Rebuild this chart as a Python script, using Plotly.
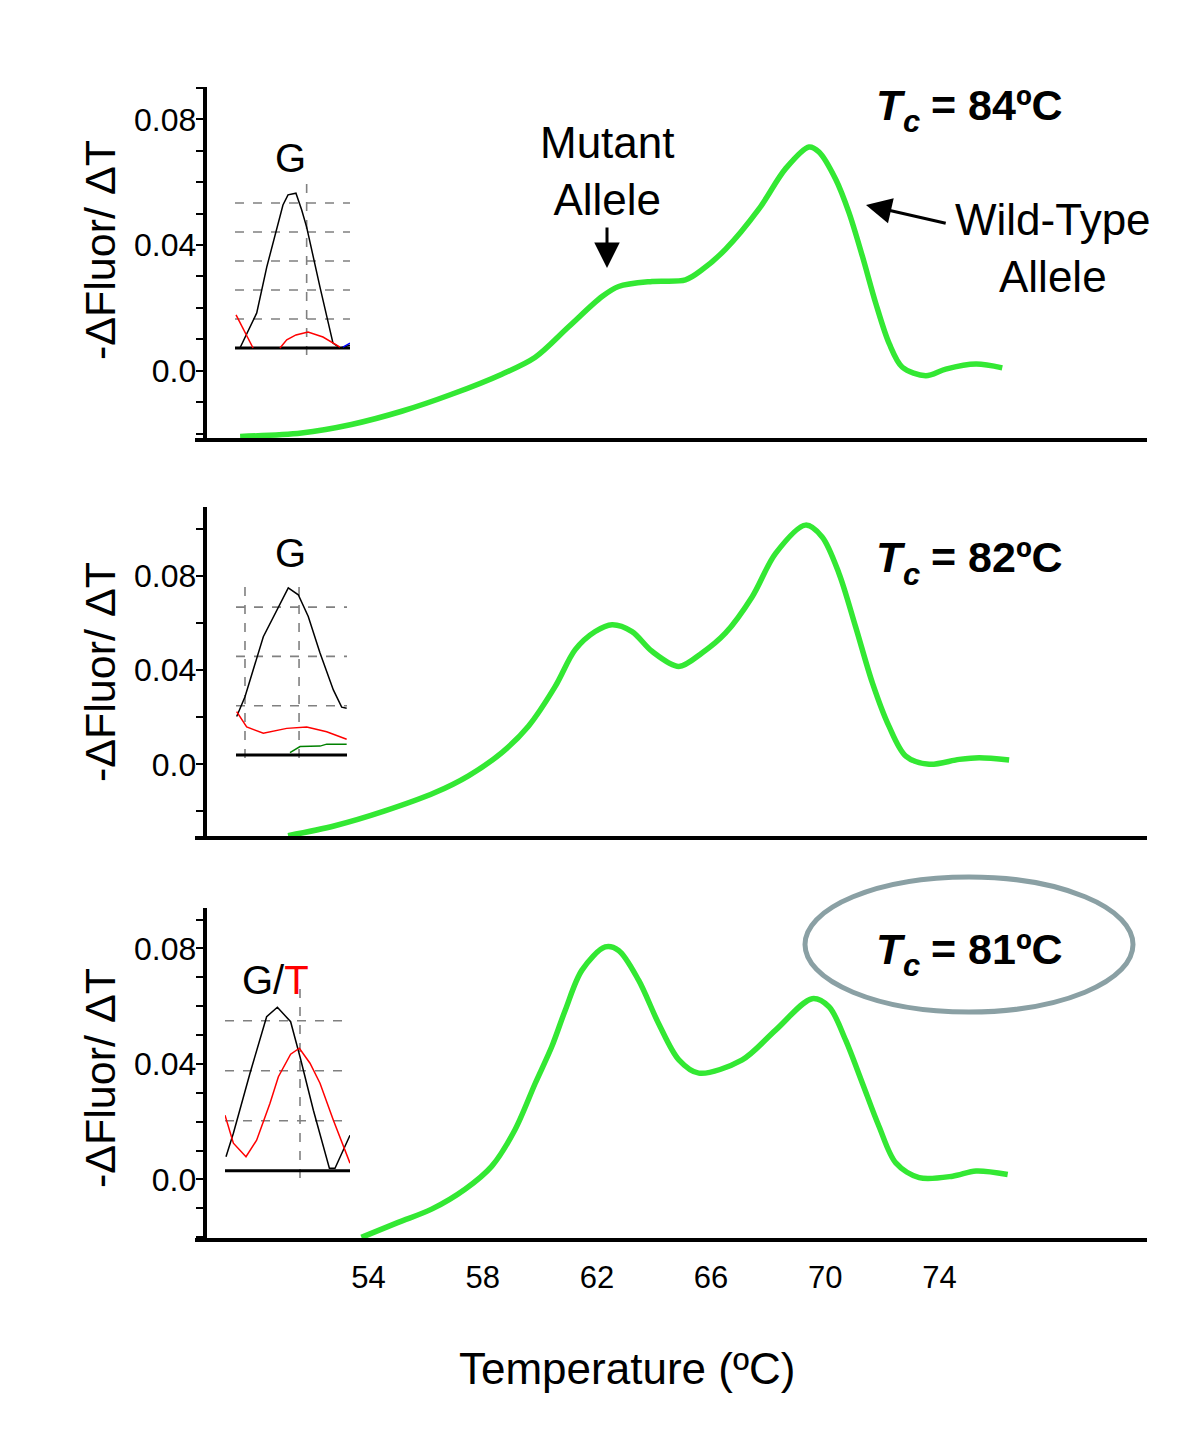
import plotly.graph_objects as go

# ---------------- main melting-curve data ----------------
temp_84 = [49.5, 51.65, 53.4, 55.16, 56.91, 58.67, 59.84, 61.0, 62.18, 62.76, 63.93, 65.1, 65.68,
           66.5, 67.67, 68.61, 69.43, 69.78, 70.36, 70.83, 71.3, 71.77, 72.24, 72.7, 73.52, 74.22, 75.28, 76.2]
dfdt_84 = [-0.0209, -0.0198, -0.0171, -0.0129, -0.0075, -0.0011, 0.0043, 0.0139, 0.0236, 0.0268, 0.0284, 0.0289, 0.0321,
           0.0386, 0.0514, 0.0643, 0.0712, 0.0696, 0.061, 0.0503, 0.0364, 0.0214, 0.0086, 0.0011, -0.0016, 0.0005, 0.0021, 0.0009]

temp_82 = [51.18, 52.82, 54.57, 56.33, 57.5, 58.67, 59.6, 60.54, 61.24, 61.94, 62.53, 63.23, 63.93, 64.87, 65.68,
           66.5, 67.44, 68.26, 69.31, 69.89, 70.48, 71.06, 71.65, 72.23, 72.82, 73.64, 74.69, 75.39, 76.44]
dfdt_82 = [-0.0303, -0.0261, -0.0198, -0.012, -0.0049, 0.005, 0.0162, 0.0331, 0.0487, 0.0564, 0.0593, 0.0564, 0.048, 0.0416, 0.0473,
           0.0557, 0.0712, 0.0896, 0.1016, 0.0966, 0.0811, 0.0585, 0.0346, 0.0162, 0.0035, 0.0, 0.0021, 0.0028, 0.0018]

temp_81 = [53.75, 55.04, 56.21, 57.38, 58.32, 59.13, 59.84, 60.42, 60.89, 61.47, 62.29, 62.76, 63.46, 64.16, 64.87, 65.57,
           67.09, 68.26, 69.54, 70.13, 70.71, 71.3, 71.88, 72.47, 73.29, 74.46, 75.28, 76.39]
dfdt_81 = [-0.0201, -0.0149, -0.0103, -0.0034, 0.0046, 0.0172, 0.0333, 0.046, 0.0586, 0.0724, 0.0805, 0.0793, 0.069, 0.054, 0.0414, 0.0368,
           0.0414, 0.0517, 0.0626, 0.0598, 0.0483, 0.0333, 0.0184, 0.0057, 0.0006, 0.0011, 0.0029, 0.0017]

x_tickvals = [54, 58, 62, 66, 70, 74]
x_ticktext = ["54", "58", "62", "66", "70", "74"]

y_tickvals = [0.0, 0.04, 0.08]
y_ticktext = ["0.0", "0.04", "0.08"]
y_minor_step = [0.01, 0.02, 0.01]   # panel 1, panel 2, panel 3

tc_labels = ["84", "82", "81"]

# ---------------- inset (sequencing trace) data ----------------
ins1_black_x = [4.3, 18.9, 27.6, 41.7, 46.1, 53.0, 58.0, 62.3, 73.9, 85.2, 91.3, 96.0, 100]
ins1_black_y = [0.0, 1.21, 2.79, 4.93, 5.28, 5.34, 4.76, 4.17, 2.1, 0.17, 0.0, 0.05, 0.1]
ins1_red_x = [0.9, 15.7, None, 39.1, 45.0, 53.0, 63.5, 76.5, 91.3]
ins1_red_y = [1.14, 0.0, None, 0.0, 0.28, 0.45, 0.55, 0.38, 0.03]
ins1_blue_x = [93.9, 100]
ins1_blue_y = [0.03, 0.17]
ins1_hgrid = [1, 2, 3, 4, 5]
ins1_vgrid = [62.3]

ins2_black_x = [0.6, 8.1, 24.6, 39.6, 47.1, 56.1, 65.1, 75.7, 87.7, 95.2, 99.7]
ins2_black_y = [0.78, 1.18, 2.40, 3.08, 3.39, 3.25, 2.81, 2.07, 1.32, 0.97, 0.95]
ins2_red_x = [0.6, 9.6, 24.6, 45.7, 63.7, 81.7, 99.7]
ins2_red_y = [0.88, 0.57, 0.44, 0.54, 0.57, 0.47, 0.32]
ins2_green_x = [48.6, 57.7, 75.7, 81.7, 99.7]
ins2_green_y = [0.05, 0.17, 0.18, 0.22, 0.22]
ins2_hgrid = [1, 2, 3]
ins2_vgrid = [8.1, 56.8]

ins3_black_x = [0.8, 6.7, 20.0, 33.3, 41.9, 52.5, 60.0, 70.7, 83.5, 88.0, 100]
ins3_black_y = [0.28, 0.75, 1.95, 3.08, 3.27, 2.98, 2.28, 1.21, 0.05, 0.05, 0.71]
ins3_red_x = [0.0, 6.7, 16.8, 25.3, 36.0, 42.7, 52.5, 59.5, 68.0, 76.0, 86.7, 100]
ins3_red_y = [1.11, 0.55, 0.28, 0.61, 1.35, 1.88, 2.33, 2.45, 2.15, 1.75, 1.01, 0.15]
ins3_hgrid = [1, 2, 3]
ins3_vgrid = [60]

FONT = "Liberation Sans, Arial, Helvetica, sans-serif"
GREEN = "#33e833"

fig = go.Figure()

for tx, vy, xa, ya in [(temp_81, dfdt_81, "x", "y"), (temp_82, dfdt_82, "x2", "y2"), (temp_84, dfdt_84, "x3", "y3")]:
    fig.add_trace(go.Scatter(x=tx, y=vy, xaxis=xa, yaxis=ya, mode="lines",
                             line=dict(color=GREEN, width=5.5, shape="spline", smoothing=0.9),
                             hoverinfo="skip"))

ins_traces = [
    (ins1_black_x, ins1_black_y, "black", "x4", "y4"),
    (ins1_red_x, ins1_red_y, "red", "x4", "y4"),
    (ins1_blue_x, ins1_blue_y, "blue", "x4", "y4"),
    (ins2_black_x, ins2_black_y, "black", "x5", "y5"),
    (ins2_red_x, ins2_red_y, "red", "x5", "y5"),
    (ins2_green_x, ins2_green_y, "green", "x5", "y5"),
    (ins3_black_x, ins3_black_y, "black", "x6", "y6"),
    (ins3_red_x, ins3_red_y, "red", "x6", "y6"),
]
for ix, iy, col, xa, ya in ins_traces:
    fig.add_trace(go.Scatter(x=ix, y=iy, xaxis=xa, yaxis=ya, mode="lines",
                             line=dict(color=col, width=1.5), connectgaps=False, hoverinfo="skip"))

# page body has an 8px margin: lay the figure out in page pixels minus that offset
OFF = 8.0
W = 1192.0
H = 1427.0
def px(p):
    return (p - OFF) / W
def py(p):
    return 1 - (p - OFF) / H

xdom = [px(206.7), px(1145)]
xrange_ = [48.33, 81.2]

common_x = dict(range=xrange_, domain=xdom, showgrid=False, zeroline=False, showline=False, ticks="",
                tickvals=x_tickvals, ticktext=x_ticktext)

def yaxis_def(anchor, top, bot, rng, minor_step):
    return dict(anchor=anchor, domain=[py(bot), py(top)], range=rng,
                showgrid=False, zeroline=False, showline=True, linewidth=4, linecolor="black",
                tickmode="array", tickvals=y_tickvals, ticktext=y_ticktext,
                ticks="outside", ticklen=7, tickwidth=1.5, tickcolor="black", ticklabelstandoff=-7,
                tickfont=dict(size=32, color="black", family=FONT),
                minor=dict(tickmode="linear", tick0=0, dtick=minor_step, ticks="outside",
                           ticklen=7, tickwidth=1.5, tickcolor="black", showgrid=False))

layout = dict(
    width=int(W), height=int(H), margin=dict(l=0, r=0, t=0, b=0),
    paper_bgcolor="white", plot_bgcolor="rgba(0,0,0,0)", showlegend=False,
    font=dict(family=FONT, color="black"),
    xaxis=dict(common_x, anchor="y", showticklabels=True, ticklabelstandoff=16,
               tickfont=dict(size=31, family=FONT, color="black")),
    xaxis2=dict(common_x, anchor="y2", showticklabels=False),
    xaxis3=dict(common_x, anchor="y3", showticklabels=False),
    yaxis=yaxis_def("x", 908, 1240, [-0.0210, 0.0940], y_minor_step[2]),
    yaxis2=yaxis_def("x2", 507, 838, [-0.0313, 0.1093], y_minor_step[1]),
    yaxis3=yaxis_def("x3", 87, 440, [-0.02205, 0.09028], y_minor_step[0]),
)

insets = [
    ("4", [235, 350], [355, 177], [-0.241, 5.897], ins1_hgrid, ins1_vgrid),
    ("5", [236, 347], [758, 580], [-0.061, 3.55], ins2_hgrid, ins2_vgrid),
    ("6", [225, 350], [1178, 986], [-0.146, 3.694], ins3_hgrid, ins3_vgrid),
]
for k, xd, yd, yr, hg, vg in insets:
    layout["xaxis" + k] = dict(domain=[px(xd[0]), px(xd[1])], anchor="y" + k, range=[0, 100], visible=False)
    layout["yaxis" + k] = dict(domain=[py(yd[0]), py(yd[1])], anchor="x" + k, range=yr, visible=False)

fig.update_layout(**layout)

GRID = dict(color="#808080", width=1.6, dash="dash")
for k, xd, yd, yr, hg, vg in insets:
    for g in hg:
        fig.add_shape(type="line", xref="x" + k + " domain", yref="y" + k, x0=0, x1=1, y0=g, y1=g,
                      line=GRID, layer="below")
    for g in vg:
        fig.add_shape(type="line", xref="x" + k, yref="y" + k + " domain", x0=g, x1=g, y0=0, y1=1,
                      line=GRID, layer="below")
    fig.add_shape(type="line", xref="x" + k + " domain", yref="y" + k, x0=0, x1=1, y0=0, y1=0,
                  line=dict(color="black", width=3), layer="below")

for ybot in [440, 838, 1240]:
    fig.add_shape(type="line", xref="paper", yref="paper", x0=px(195), x1=px(1147), y0=py(ybot), y1=py(ybot),
                  line=dict(color="black", width=4))

fig.add_shape(type="circle", xref="paper", yref="paper", x0=px(805), x1=px(1133), y0=py(1012), y1=py(877),
              line=dict(color="#8aa0a4", width=5))

def txt(text, x, y, size, **kw):
    d = dict(text=text, x=px(x), y=py(y), xref="paper", yref="paper", showarrow=False,
             xanchor="center", yanchor="middle", font=dict(size=size, family=FONT, color="black"))
    d.update(kw)
    return d

ann = []
for yc in [250, 672, 1078]:
    ann.append(txt("-ΔFluor/ ΔT", 100, yc, 43, textangle=-90))
ann.append(txt("Temperature (ºC)", 627, 1368, 44))

# Tc labels: italic T, lowered small italic c, then the value
for lab, yc in zip(tc_labels, [105, 557, 949]):
    ann.append(txt("<b><i>T</i></b>", 876, yc, 43, xanchor="left", borderpad=0, borderwidth=0))
    ann.append(txt("<b><i>c</i></b>", 903, yc + 17, 31, xanchor="left", borderpad=0, borderwidth=0))
    ann.append(txt("<b>= " + lab + "ºC</b>", 931, yc, 43, xanchor="left", borderpad=0, borderwidth=0))

# allele labels with arrows (x,y = arrow tip; ax,ay = text offset in px)
ann.append(dict(text="Mutant<br>Allele", x=px(607), y=py(268), xref="paper", yref="paper",
                showarrow=True, ax=0, ay=-97, arrowhead=2, arrowsize=1.7, arrowwidth=3, arrowcolor="black",
                startstandoff=2, font=dict(size=44, family=FONT, color="black")))
ann.append(dict(text="Wild-Type<br>Allele", x=px(866), y=py(205), xref="paper", yref="paper",
                showarrow=True, ax=187, ay=43, arrowhead=2, arrowsize=1.7, arrowwidth=3, arrowcolor="black",
                startstandoff=8, font=dict(size=44, family=FONT, color="black")))

ann.append(txt("G", 290, 158, 40))
ann.append(txt("G", 290, 553, 40))
ann.append(txt("G/<span style='color:red'>T</span>", 275, 980, 40))

fig.update_layout(annotations=ann)

fig.write_html("out.html")
